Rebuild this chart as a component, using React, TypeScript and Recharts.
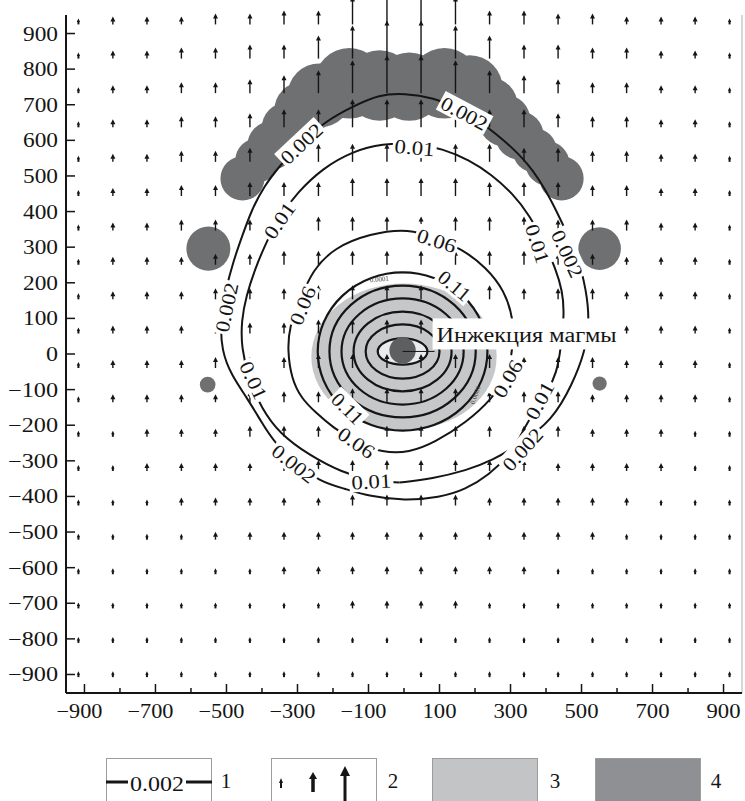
import React from 'react';
import { ScatterChart, Scatter, XAxis, YAxis, ReferenceArea, ReferenceLine } from 'recharts';

const FONT = '"Liberation Serif", "Times New Roman", serif';
const INK = '#151515';
const DARK = '#6f7072';
const LIGHT = '#c6c7c9';

// оси
const xTicks = [-900, -800, -700, -600, -500, -400, -300, -200, -100, 0, 100, 200, 300, 400, 500, 600, 700, 800, 900];
const yTicks = [-900, -800, -700, -600, -500, -400, -300, -200, -100, 0, 100, 200, 300, 400, 500, 600, 700, 800, 900];

// узлы поля векторов и их величина (уровень 1..9), строки сверху вниз
const gridX = [-917, -820, -724, -627, -531, -434, -338, -241, -145, -48, 48, 145, 241, 338, 434, 531, 627, 724, 820, 917];
const gridY = [934, 838, 741, 645, 548, 452, 355, 259, 162, 66, -31, -127, -224, -320, -417, -513, -610, -706, -803, -899];
const arrowLevels = [
  '12223344788744332221',
  '12233446899864433221',
  '12233456899865433221',
  '12233455777755433221',
  '12233445555554433221',
  '12233444555544433221',
  '12233344444444333221',
  '12223344444444332221',
  '12223334444443332221',
  '12223334444443332221',
  '12223334444443332221',
  '12222333444433322221',
  '11222333333333322211',
  '11222233333333222211',
  '11122222333322222111',
  '11112222222222221111',
  '11111122222222111111',
  '11111111222211111111',
  '11111111111111111111',
  '11111111111111111111',
];

// изолинии
const contour002 = [
  { x: -13, y: -361 }, { x: 80, y: -350 }, { x: 176, y: -327 }, { x: 249, y: -299 }, { x: 325, y: -254 },
  { x: 418, y: -187 }, { x: 475, y: -83 }, { x: 508, y: 1 }, { x: 523, y: 86 }, { x: 514, y: 178 },
  { x: 489, y: 277 }, { x: 452, y: 353 }, { x: 416, y: 431 }, { x: 354, y: 535 }, { x: 261, y: 619 },
  { x: 170, y: 684 }, { x: 80, y: 721 }, { x: 1, y: 732 }, { x: -69, y: 729 }, { x: -145, y: 695 },
  { x: -218, y: 656 }, { x: -294, y: 591 }, { x: -351, y: 527 }, { x: -393, y: 473 }, { x: -430, y: 403 },
  { x: -455, y: 333 }, { x: -480, y: 263 }, { x: -503, y: 178 }, { x: -517, y: 94 }, { x: -514, y: 10 },
  { x: -486, y: -60 }, { x: -441, y: -125 }, { x: -401, y: -192 }, { x: -365, y: -249 }, { x: -306, y: -305 },
  { x: -238, y: -358 }, { x: -168, y: -378 }, { x: -97, y: -400 }, { x: 1, y: -412 }, { x: 100, y: -403 },
  { x: 173, y: -381 }, { x: 241, y: -338 }, { x: 292, y: -288 }, { x: 325, y: -235 },
];
const contour001 = [
  { x: 325, y: -235 }, { x: 362, y: -167 }, { x: 404, y: -108 }, { x: 430, y: -52 }, { x: 441, y: 10 },
  { x: 452, y: 114 }, { x: 446, y: 178 }, { x: 427, y: 240 }, { x: 396, y: 310 }, { x: 354, y: 389 },
  { x: 306, y: 451 }, { x: 246, y: 504 }, { x: 185, y: 544 }, { x: 108, y: 577 }, { x: 30, y: 591 },
  { x: -61, y: 591 }, { x: -145, y: 569 }, { x: -230, y: 521 }, { x: -300, y: 454 }, { x: -351, y: 386 },
  { x: -390, y: 310 }, { x: -421, y: 235 }, { x: -444, y: 164 }, { x: -458, y: 94 }, { x: -458, y: 18 },
  { x: -438, y: -69 }, { x: -401, y: -153 }, { x: -351, y: -223 }, { x: -266, y: -285 }, { x: -173, y: -333 },
  { x: -97, y: -355 }, { x: -13, y: -361 },
];
const contour006 = [
  { x: 15, y: 353 }, { x: 92, y: 324 }, { x: 162, y: 296 }, { x: 232, y: 243 }, { x: 283, y: 178 },
  { x: 308, y: 100 }, { x: 308, y: 24 }, { x: 292, y: -60 }, { x: 249, y: -125 }, { x: 176, y: -192 },
  { x: 86, y: -249 }, { x: 15, y: -277 }, { x: -61, y: -277 }, { x: -134, y: -249 }, { x: -201, y: -206 },
  { x: -249, y: -164 }, { x: -289, y: -125 }, { x: -317, y: -69 }, { x: -328, y: 10 }, { x: -323, y: 77 },
  { x: -294, y: 150 }, { x: -258, y: 235 }, { x: -196, y: 299 }, { x: -97, y: 338 },
];

// кольца 0.11 и внутренние (центр, полуоси)
const ringCenter = { x: -4, y: 7 };
const ringRx = [239, 206, 172, 138, 104, 70];
const ringRy = [222, 185, 149, 112, 76, 37];

// области 3 и 4
const grayZone = { x: 0, y: -8, rx: 261, ry: 206 };
const darkZones = [
  { x: -455, y: 493, r: 62 }, { x: -413, y: 544, r: 62 }, { x: -373, y: 586, r: 68 }, { x: -328, y: 634, r: 73 },
  { x: -286, y: 685, r: 79 }, { x: -238, y: 726, r: 90 }, { x: -154, y: 760, r: 99 }, { x: -69, y: 754, r: 99 },
  { x: 15, y: 751, r: 96 }, { x: 114, y: 760, r: 99 }, { x: 185, y: 746, r: 93 }, { x: 241, y: 698, r: 79 },
  { x: 283, y: 656, r: 73 }, { x: 325, y: 614, r: 68 }, { x: 368, y: 572, r: 62 }, { x: 404, y: 535, r: 62 },
  { x: 444, y: 493, r: 62 },
  { x: -551, y: 296, r: 62 }, { x: 551, y: 296, r: 60 }, { x: -553, y: -86, r: 22 }, { x: 551, y: -83, r: 20 },
];
const injection = { x: -4, y: 10, r: 37 };

// подписи изолиний
const contourLabels = [
  { x: -289, y: 591, text: '0.002', angle: -43 },
  { x: 170, y: 676, text: '0.002', angle: 28 },
  { x: 30, y: 580, text: '0.01', angle: 5 },
  { x: -351, y: 375, text: '0.01', angle: -55 },
  { x: -500, y: 131, text: '0.002', angle: -78 },
  { x: -424, y: -74, text: '0.01', angle: 65 },
  { x: -310, y: -308, text: '0.002', angle: 38 },
  { x: -92, y: -358, text: '0.01', angle: -3 },
  { x: 334, y: -268, text: '0.002', angle: -48 },
  { x: 382, y: -131, text: '0.01', angle: -62 },
  { x: 376, y: 310, text: '0.01', angle: 72 },
  { x: 460, y: 282, text: '0.002', angle: 65 },
  { x: 92, y: 319, text: '0.06', angle: 18 },
  { x: -286, y: 136, text: '0.06', angle: -68 },
  { x: -134, y: -249, text: '0.06', angle: 35 },
  { x: 292, y: -69, text: '0.06', angle: -60 },
  { x: 142, y: 192, text: '0.11', angle: 40 },
  { x: -159, y: -153, text: '0.11', angle: 45 },
];
const tinyLabels = [
  { x: -69, y: 204, text: '0.0001', angle: -5 },
  { x: 207, y: -117, text: '0.0001', angle: -70 },
];

const arrows = gridY.flatMap((y, r) => gridX.map((x, c) => ({ x, y, level: Number(arrowLevels[r][c]) })));

const ARROW_LEN = [0, 6, 8, 11, 14, 18, 23, 28, 33, 38];

const fmt = (v: number) => (v < 0 ? '\u2212' + Math.abs(v) : String(v));

const XTick = ({ x, y, payload }: any) => {
  const v = payload.value;
  const major = Math.abs(v) % 200 === 100;
  return (
    <g>
      <line x1={x} y1={y} x2={x} y2={y - (major ? 9 : 5)} stroke={INK} strokeWidth={1.5} />
      {major && (
        <text x={v < 0 ? x - 5 : x} y={y + 25} textAnchor="middle" fontFamily={FONT} fontSize={20} fill={INK}
          textLength={v < 0 ? 46 : 34} lengthAdjust="spacingAndGlyphs">
          {fmt(v)}
        </text>
      )}
    </g>
  );
};

const YTick = ({ x, y, payload }: any) => {
  const v = payload.value;
  const w = v === 0 ? 12 : v < 0 ? 50 : 35;
  return (
    <g>
      <line x1={x} y1={y} x2={x + 9} y2={y} stroke={INK} strokeWidth={1.5} />
      <text x={x - 8} y={y + 7} textAnchor="end" fontFamily={FONT} fontSize={20} fill={INK}
        textLength={w} lengthAdjust="spacingAndGlyphs">
        {fmt(v)}
      </text>
    </g>
  );
};

const ellipse = (fill: string, stroke = 'none', sw = 0) => (p: any) => (
  <ellipse cx={p.x + p.width / 2} cy={p.y + p.height / 2} rx={Math.abs(p.width) / 2} ry={Math.abs(p.height) / 2}
    fill={fill} stroke={stroke} strokeWidth={sw} />
);

const Arrow = ({ cx, cy, payload }: any) => {
  const L = ARROW_LEN[payload.level];
  const tail = cy + 3;
  const tip = tail - L;
  const small = L < 8;
  const hh = small ? 3.5 : 5;
  const hw = small ? 1.7 : 2.5;
  return (
    <g>
      <line x1={cx} y1={tail} x2={cx} y2={tip + hh - 0.5} stroke={INK} strokeWidth={small ? 2 : 1.4} />
      <path d={`M${cx},${tip} L${cx - hw},${tip + hh} L${cx + hw},${tip + hh} Z`} fill={INK} />
    </g>
  );
};

const labelWidth = (t: string) => (t === '0.002' ? 50 : t === '0.11' ? 36 : 40);

const ContourLabel = ({ cx, cy, payload }: any) => {
  const w = labelWidth(payload.text);
  return (
    <g transform={`translate(${cx},${cy}) rotate(${payload.angle})`}>
      <rect x={-w / 2 - 2} y={-11} width={w + 4} height={21} fill="#fff" />
      <text x={0} y={7} textAnchor="middle" fontFamily={FONT} fontSize={20} fill={INK}
        textLength={w} lengthAdjust="spacingAndGlyphs">
        {payload.text}
      </text>
    </g>
  );
};

const TinyLabel = ({ cx, cy, payload }: any) => (
  <text transform={`translate(${cx},${cy}) rotate(${payload.angle})`} textAnchor="middle" fontFamily={FONT}
    fontSize={7} fill="#444">
    {payload.text}
  </text>
);

const InjectionLabel = ({ cx, cy }: any) => (
  <g>
    <line x1={cx} y1={cy + 1} x2={cx + 32} y2={cy + 1} stroke={INK} strokeWidth={1} />
    <rect x={cx + 30} y={cy - 32} width={190} height={31} fill="#fff" />
    <text x={cx + 34} y={cy - 8} fontFamily={FONT} fontSize={20} fill={INK} textLength={180}
      lengthAdjust="spacingAndGlyphs">
      Инжекция магмы
    </text>
  </g>
);

const none = () => <g />;

const legendNum = (left: number, n: string) => (
  <div style={{ position: 'absolute', left: left - 6, top: 767, width: 12, textAlign: 'center', fontSize: 21, lineHeight: '28px', color: INK }}>
    {n}
  </div>
);

const boxStyle = (left: number, bg: string): React.CSSProperties => ({
  position: 'absolute', left, top: 758, width: 106, height: 60, boxSizing: 'border-box',
  border: '1.5px solid #9c9c9c', background: bg,
});

export default function App() {
  return (
    <div style={{ position: 'fixed', left: 0, top: 0, width: 745, height: 801, overflow: 'hidden', background: '#fff', fontFamily: FONT }}>
      <ScatterChart width={745} height={740} margin={{ top: 15, right: 3, bottom: 2, left: 0 }}>
        <XAxis dataKey="x" type="number" domain={[-952, 952]} ticks={xTicks} interval={0} height={45}
          tickSize={0} tickMargin={0} tickLine={false} axisLine={{ stroke: INK, strokeWidth: 2 }} tick={(p: any) => <XTick {...p} />} />
        <YAxis dataKey="y" type="number" domain={[-952, 952]} ticks={yTicks} interval={0} width={66}
          tickSize={0} tickMargin={0} tickLine={false} axisLine={{ stroke: INK, strokeWidth: 2 }} tick={(p: any) => <YTick {...p} />} />
        <ReferenceLine x={952} stroke="#d8d8d8" strokeWidth={2} />
        {darkZones.map((d, i) => (
          <ReferenceArea key={'d' + i} x1={d.x - d.r} x2={d.x + d.r} y1={d.y - d.r} y2={d.y + d.r} shape={ellipse(DARK)} />
        ))}
        <ReferenceArea x1={grayZone.x - grayZone.rx} x2={grayZone.x + grayZone.rx} y1={grayZone.y - grayZone.ry}
          y2={grayZone.y + grayZone.ry} shape={ellipse(LIGHT)} />
        {ringRx.map((rx, i) => (
          <ReferenceArea key={'r' + i} x1={ringCenter.x - rx} x2={ringCenter.x + rx} y1={ringCenter.y - ringRy[i]}
            y2={ringCenter.y + ringRy[i]} shape={ellipse(i === ringRx.length - 1 ? '#ececec' : 'none', INK, 2.2)} />
        ))}
        <ReferenceArea x1={injection.x - injection.r} x2={injection.x + injection.r} y1={injection.y - injection.r}
          y2={injection.y + injection.r} shape={ellipse('#5e5f61')} />
        <Scatter data={arrows} shape={(p: any) => <Arrow {...p} />} isAnimationActive={false} />
        <Scatter data={contour002} line={{ stroke: INK, strokeWidth: 2 }} lineJointType="basis" shape={none} isAnimationActive={false} />
        <Scatter data={contour001} line={{ stroke: INK, strokeWidth: 2 }} lineJointType="basis" shape={none} isAnimationActive={false} />
        <Scatter data={contour006} line={{ stroke: INK, strokeWidth: 2 }} lineJointType="basisClosed" shape={none} isAnimationActive={false} />
        <Scatter data={tinyLabels} shape={(p: any) => <TinyLabel {...p} />} isAnimationActive={false} />
        <Scatter data={contourLabels} shape={(p: any) => <ContourLabel {...p} />} isAnimationActive={false} />
        <Scatter data={[injection]} shape={(p: any) => <InjectionLabel {...p} />} isAnimationActive={false} />
      </ScatterChart>

      <div style={boxStyle(106, '#fff')}>
        <svg width={106} height={60} style={{ position: 'absolute', left: -1.5, top: -1.5 }}>
          <line x1={0} y1={24} x2={22} y2={24} stroke={INK} strokeWidth={3} />
          <text x={51} y={33} textAnchor="middle" fontFamily={FONT} fontSize={21} fill={INK} textLength={54} lengthAdjust="spacingAndGlyphs">0.002</text>
          <line x1={80} y1={24} x2={106} y2={24} stroke={INK} strokeWidth={3} />
        </svg>
      </div>
      {legendNum(226, '1')}
      <div style={boxStyle(271, '#fff')}>
        <svg width={106} height={60} style={{ position: 'absolute', left: -1.5, top: -1.5 }}>
          <line x1={10} y1={30} x2={10} y2={24} stroke={INK} strokeWidth={2} />
          <path d="M10,20 L8,25 L12,25 Z" fill={INK} />
          <line x1={42} y1={34} x2={42} y2={20} stroke={INK} strokeWidth={3.5} />
          <path d="M42,14 L38,21 L46,21 Z" fill={INK} />
          <line x1={74} y1={45} x2={74} y2={17} stroke={INK} strokeWidth={3} />
          <path d="M74,8 L69,18 L79,18 Z" fill={INK} />
        </svg>
      </div>
      {legendNum(393, '2')}
      <div style={boxStyle(432, '#c3c4c6')} />
      {legendNum(555, '3')}
      <div style={boxStyle(595, '#8f9093')} />
      {legendNum(716, '4')}
    </div>
  );
}
